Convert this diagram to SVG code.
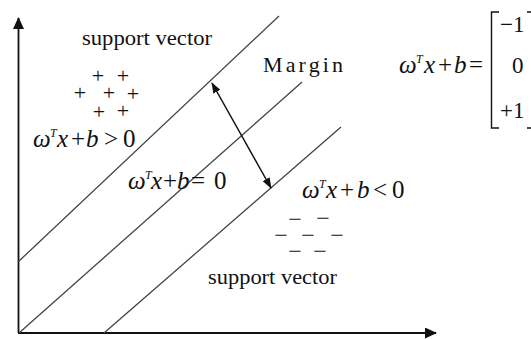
<svg xmlns="http://www.w3.org/2000/svg" width="531" height="339" viewBox="0 0 531 339">
<style>
  .ax { stroke:#111; stroke-width:1.8; fill:none; }
  .hp { stroke:#444; stroke-width:1.3; fill:none; }
  .arr { stroke:#111; stroke-width:1.5; fill:none; }
  .t { font-family:"Liberation Serif","Times New Roman",serif; fill:#111; }
  .lab { font-size:22px; }
  .eq { font-size:25px; }
  .i { font-style:italic; }
  .sup { font-size:12px; font-style:italic; }
  .pm { font-size:22px; text-anchor:middle; }
  .mn { font-size:24px; text-anchor:middle; }
</style>
<defs>
  <marker id="axhead" markerUnits="userSpaceOnUse" markerWidth="12" markerHeight="11" refX="11" refY="5.5" orient="auto">
    <path d="M0,0 L12,5.5 L0,11 z" fill="#111"/>
  </marker>
  <marker id="mhead" markerUnits="userSpaceOnUse" markerWidth="11" markerHeight="8" refX="10" refY="4" orient="auto-start-reverse">
    <path d="M0,0 L11,4 L0,8 z" fill="#111"/>
  </marker>
</defs>
<rect width="531" height="339" fill="#fff"/>

<g id="connectors">
  <line id="y-axis" class="ax" x1="18.5" y1="333" x2="18.5" y2="18" marker-end="url(#axhead)"/>
  <line id="x-axis" class="ax" x1="18" y1="333" x2="436" y2="333" marker-end="url(#axhead)"/>
  <line id="plane-plus" class="hp" x1="18" y1="262" x2="279" y2="16"/>
  <line id="plane-zero" class="hp" x1="19" y1="333" x2="302" y2="82"/>
  <line id="plane-minus" class="hp" x1="104" y1="333" x2="341" y2="127"/>
  <line id="margin-arrow" class="arr" x1="212" y1="83" x2="271" y2="188" marker-start="url(#mhead)" marker-end="url(#mhead)"/>
</g>

<g id="label-sv-top">
  <text class="t lab" x="82" y="45" textLength="130" lengthAdjust="spacingAndGlyphs">support vector</text>
</g>
<g id="label-sv-bottom">
  <text class="t lab" x="208" y="284" textLength="129" lengthAdjust="spacingAndGlyphs">support vector</text>
</g>
<g id="label-margin">
  <text class="t lab" x="263" y="72" textLength="80" lengthAdjust="spacing">Margin</text>
</g>

<g id="plus-points">
  <text class="t pm"><tspan x="98" y="83">+</tspan><tspan x="123" y="83">+</tspan><tspan x="80" y="100">+</tspan><tspan x="109" y="100">+</tspan><tspan x="133" y="101">+</tspan><tspan x="99" y="119">+</tspan><tspan x="123" y="118">+</tspan></text>
</g>

<g id="minus-points">
  <text class="t mn"><tspan x="295" y="227">−</tspan><tspan x="323" y="226">−</tspan><tspan x="281" y="243">−</tspan><tspan x="308" y="243">−</tspan><tspan x="337" y="243">−</tspan><tspan x="295" y="259">−</tspan><tspan x="320" y="259">−</tspan></text>
</g>

<g id="eq-positive" class="t eq">
  <text y="147"><tspan class="i" x="33">ω</tspan><tspan class="sup" x="50" y="137">T</tspan><tspan class="i" x="57" y="147">x</tspan><tspan x="71">+</tspan><tspan class="i" x="86">b</tspan><tspan x="104">&gt;</tspan><tspan x="123">0</tspan></text>
</g>

<g id="eq-zero" class="t eq">
  <text y="189"><tspan class="i" x="128">ω</tspan><tspan class="sup" x="145" y="179">T</tspan><tspan class="i" x="151" y="189">x</tspan><tspan x="163">+</tspan><tspan class="i" x="177">b</tspan><tspan x="191">=</tspan><tspan x="214">0</tspan></text>
</g>

<g id="eq-negative" class="t eq">
  <text y="198"><tspan class="i" x="302">ω</tspan><tspan class="sup" x="319" y="188">T</tspan><tspan class="i" x="326" y="198">x</tspan><tspan x="340">+</tspan><tspan class="i" x="357">b</tspan><tspan x="373">&lt;</tspan><tspan x="392">0</tspan></text>
</g>

<g id="eq-cases" class="t eq">
  <text y="73"><tspan class="i" x="399">ω</tspan><tspan class="sup" x="416" y="63">T</tspan><tspan class="i" x="424" y="73">x</tspan><tspan x="438">+</tspan><tspan class="i" x="454">b</tspan><tspan x="469">=</tspan></text>
  <path d="M499,12 H491.5 V128 H499" fill="none" stroke="#111" stroke-width="1.4"/>
  <path d="M527,12 H533 M527,128 H533" fill="none" stroke="#111" stroke-width="1.4"/>
  <text x="500" y="32" font-size="23">−1</text>
  <text x="512" y="73" font-size="23">0</text>
  <text x="500" y="118" font-size="23">+1</text>
</g>
</svg>
